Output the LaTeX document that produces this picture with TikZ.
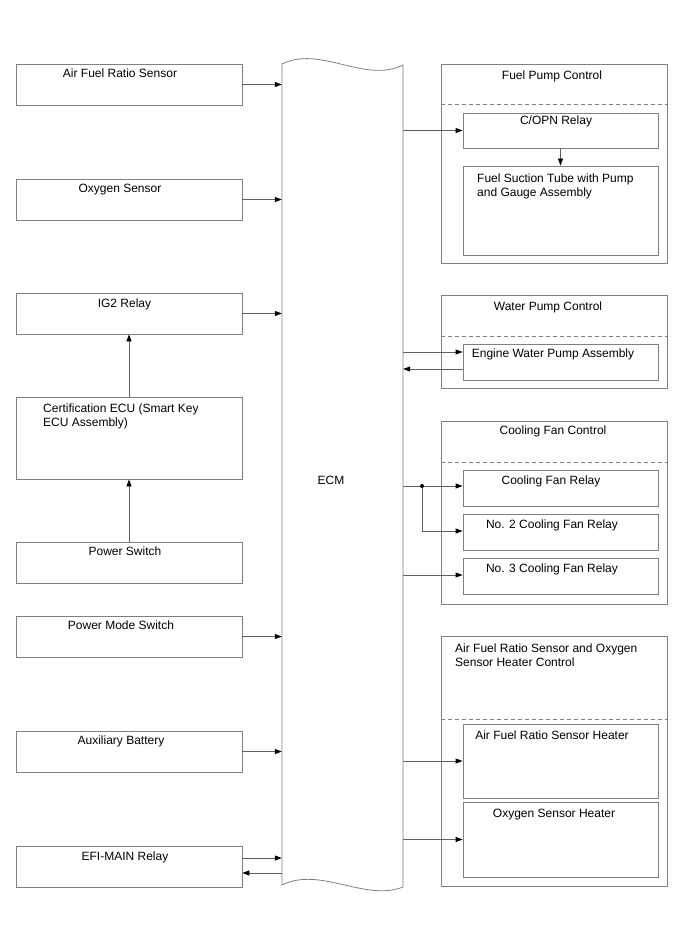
\documentclass[tikz,border=0pt]{standalone}
\usepackage{fontspec}
\setmainfont{Liberation Sans}
\usetikzlibrary{arrows.meta}
\definecolor{boxgray}{HTML}{808080}
\definecolor{linegray}{HTML}{606060}
\begin{document}
\begin{tikzpicture}[x=1pt,y=-1pt,
  box/.style={draw=boxgray, line width=0.8pt, inner sep=0pt, rectangle},
  lbox/.style={box, minimum width=226pt},
  ibox/.style={box, minimum width=195pt},
  txt/.style={anchor=base, inner sep=0pt, font=\fontsize{12}{14}\selectfont, text=black},
  ltxt/.style={txt, anchor=base west},
  conn/.style={draw=linegray, line width=0.8pt, -{Triangle[length=7pt,width=5pt,color=black]}},
  sep/.style={draw=boxgray, line width=0.8pt, dashed, dash pattern=on 4pt off 3pt}]
\useasboundingbox (0,0) rectangle (688,949);
\fill[white] (0,0) rectangle (688,949);

% ECM
\node[inner sep=0pt, minimum width=121pt, minimum height=823pt] (ecm) at (342.5,475.5) {};
\draw[boxgray, line width=0.8pt] (282,64) .. controls (320,45) and (365,84) .. (403,65)
  -- (403,887) .. controls (365,902) and (320,866) .. (282,885) -- cycle;
\node[txt] (ecmt) at (331,484) {ECM};

% left boxes
\node[lbox, minimum height=41pt] (afs) at (129,84.5) {};
\node[txt] (afst) at (120,78) {Air Fuel Ratio Sensor};
\node[lbox, minimum height=41pt] (oxs) at (129,199.5) {};
\node[txt] (oxst) at (120,193) {Oxygen Sensor};
\node[lbox, minimum height=41pt] (ig2) at (129,313.5) {};
\node[txt] (ig2t) at (124.5,307) {IG2 Relay};
\node[lbox, minimum height=82pt] (cert) at (129,438) {};
\node[ltxt] (certa) at (43,412) {Certification ECU (Smart Key};
\node[ltxt] (certb) at (43,426) {ECU Assembly)};
\node[lbox, minimum height=41pt] (psw) at (129,562.5) {};
\node[txt] (pswt) at (125,555.5) {Power Switch};
\node[lbox, minimum height=41pt] (pms) at (129,636.5) {};
\node[txt] (pmst) at (121,629.5) {Power Mode Switch};
\node[lbox, minimum height=41pt] (aux) at (129,751.5) {};
\node[txt] (auxt) at (121,744.5) {Auxiliary Battery};
\node[lbox, minimum height=41pt] (efi) at (129,866.5) {};
\node[txt] (efit) at (125,860) {EFI-MAIN Relay};

% left connectors
\draw[conn] (afs.east) -- (afs.east -| ecm.west);
\draw[conn] (oxs.east) -- (oxs.east -| ecm.west);
\draw[conn] (ig2.east) -- (ig2.east -| ecm.west);
\draw[conn] (pms.east) -- (pms.east -| ecm.west);
\draw[conn] (aux.east) -- (aux.east -| ecm.west);
\draw[conn] ([yshift=8.5pt]efi.east) -- ([yshift=8.5pt]efi.east -| ecm.west);
\draw[conn] ([yshift=-6.5pt]efi.east -| ecm.west) -- ([yshift=-6.5pt]efi.east);
\draw[conn] (cert.north) -- (ig2.south);
\draw[conn] (psw.north) -- (cert.south);

% Fuel pump control
\node[lbox, minimum height=199pt] (fpc) at (554,163.5) {};
\node[txt] (fpct) at (552,79.5) {Fuel Pump Control};
\draw[sep] (fpc.west |- 0,104) -- (fpc.east |- 0,104);
\node[ibox, minimum height=35pt] (copn) at (560.5,130.5) {};
\node[txt] (copnt) at (556,125) {C/OPN Relay};
\node[ibox, minimum height=89pt] (fst) at (560.5,210.5) {};
\node[ltxt] (fsta) at (477,183) {Fuel Suction Tube with Pump};
\node[ltxt] (fstb) at (477,196.5) {and Gauge Assembly};
\draw[conn] (copn.east -| ecm.east) -- (copn.west);
\draw[conn] (copn.south) -- (fst.north);

% Water pump control
\node[lbox, minimum height=93pt] (wpc) at (554,341.5) {};
\node[txt] (wpct) at (548,310) {Water Pump Control};
\draw[sep] (wpc.west |- 0,336) -- (wpc.east |- 0,336);
\node[ibox, minimum height=36pt] (ewp) at (560.5,362) {};
\node[txt] (ewpt) at (553,357) {Engine Water Pump Assembly};
\draw[conn] ([yshift=10pt]ewp.west -| ecm.east) -- ([yshift=10pt]ewp.west);
\draw[conn] ([yshift=-7pt]ewp.west) -- ([yshift=-7pt]ewp.west -| ecm.east);

% Cooling fan control
\node[lbox, minimum height=183pt] (cfc) at (554,512.5) {};
\node[txt] (cfct) at (553,434.5) {Cooling Fan Control};
\draw[sep] (cfc.west |- 0,462) -- (cfc.east |- 0,462);
\node[ibox, minimum height=36pt] (cf1) at (560.5,488) {};
\node[txt] (cf1t) at (551,484) {Cooling Fan Relay};
\node[ibox, minimum height=36pt] (cf2) at (560.5,532) {};
\node[txt] (cf2t) at (552,528) {No. 2 Cooling Fan Relay};
\node[ibox, minimum height=36pt] (cf3) at (560.5,576) {};
\node[txt] (cf3t) at (552,572) {No. 3 Cooling Fan Relay};
\node[circle, fill=black, inner sep=0pt, minimum size=4pt] (jn) at (422,486) {};
\draw[linegray, line width=0.8pt] (jn -| ecm.east) -- (jn);
\draw[conn] (jn) -- (jn -| cf1.west);
\draw[conn] (jn) |- ([yshift=1pt]cf2.west);
\draw[conn] ([yshift=1pt]cf3.west -| ecm.east) -- ([yshift=1pt]cf3.west);

% AF / O2 heater control
\node[lbox, minimum height=250pt] (ahc) at (554,761) {};
\node[ltxt] (ahca) at (455,652) {Air Fuel Ratio Sensor and Oxygen};
\node[ltxt] (ahcb) at (455,666) {Sensor Heater Control};
\draw[sep] (ahc.west |- 0,719) -- (ahc.east |- 0,719);
\node[ibox, minimum height=74pt] (afh) at (560.5,761) {};
\node[txt] (afht) at (552,739) {Air Fuel Ratio Sensor Heater};
\node[ibox, minimum height=75pt] (o2h) at (560.5,839.5) {};
\node[txt] (o2ht) at (554,817) {Oxygen Sensor Heater};
\draw[conn] (afh.west -| ecm.east) -- (afh.west);
\draw[conn] (o2h.west -| ecm.east) -- (o2h.west);
\end{tikzpicture}
\end{document}
